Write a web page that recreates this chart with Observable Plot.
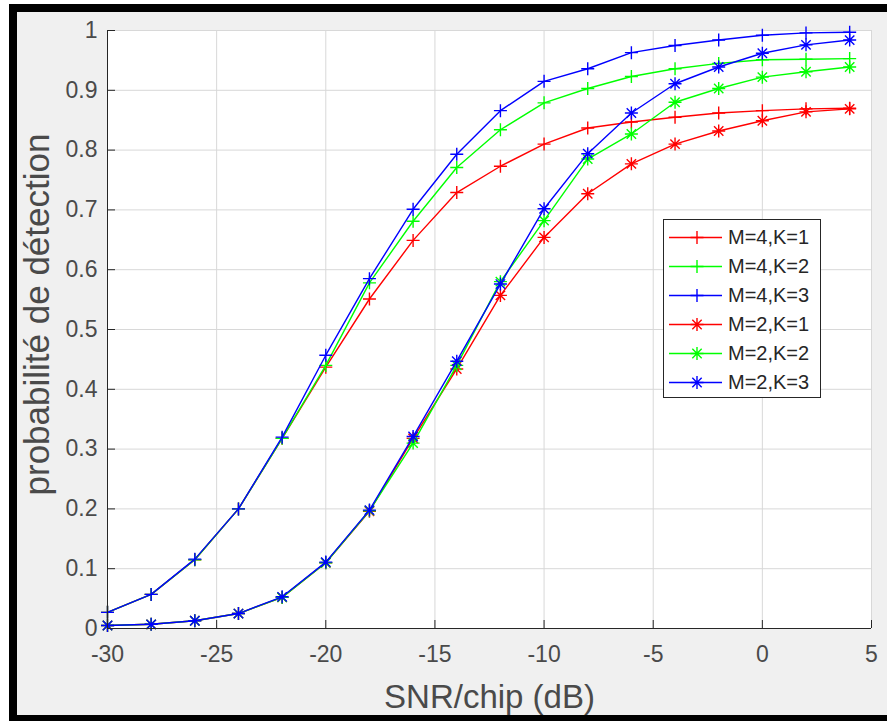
<!DOCTYPE html>
<html><head><meta charset="utf-8">
<script src="https://cdn.jsdelivr.net/npm/d3@7"></script>
<script src="https://cdn.jsdelivr.net/npm/@observablehq/plot@0.6"></script>
<style>
html,body{margin:0;padding:0;background:#fff;}
#wrap{position:relative;width:887px;height:721px;overflow:hidden;font-family:Arial,"Liberation Sans",Helvetica,sans-serif;}
#border{position:absolute;left:9px;top:4px;width:878px;height:717px;box-sizing:border-box;border-left:8px solid #000;border-top:8px solid #000;border-bottom:6px solid #000;background:#f0f0f0;}
#chart{position:absolute;left:0;top:0;}
#legend{position:absolute;left:663px;top:219px;width:158px;height:179px;box-sizing:border-box;border:1px solid #262626;background:#fff;}
.lrow{position:absolute;left:0;height:29px;width:156px;}
.lrow svg{position:absolute;left:0;top:0;}
.lrow span{position:absolute;left:64px;top:0;line-height:29px;font-size:20px;color:#262626;white-space:nowrap;}
</style></head><body>
<div id="wrap"><div id="border"></div><div id="chart"></div><div id="legend"></div></div>
<script>
// ---- data ----
const snr = [-30, -28, -26, -24, -22, -20, -18, -16, -14, -12, -10, -8, -6, -4, -2, 0, 2, 4];
const m4k1 = [0.027, 0.057, 0.115, 0.200, 0.318, 0.437, 0.551, 0.649, 0.729, 0.773, 0.810, 0.837, 0.847, 0.855, 0.862, 0.866, 0.869, 0.870];
const m4k2 = [0.027, 0.057, 0.115, 0.200, 0.318, 0.440, 0.578, 0.681, 0.771, 0.834, 0.879, 0.903, 0.923, 0.936, 0.945, 0.951, 0.952, 0.953];
const m4k3 = [0.027, 0.057, 0.116, 0.200, 0.320, 0.457, 0.585, 0.701, 0.793, 0.866, 0.915, 0.936, 0.963, 0.975, 0.984, 0.992, 0.996, 0.997];
const m2k1 = [0.005, 0.007, 0.013, 0.025, 0.052, 0.110, 0.196, 0.318, 0.434, 0.557, 0.654, 0.727, 0.777, 0.810, 0.832, 0.849, 0.864, 0.869];
const m2k2 = [0.005, 0.007, 0.013, 0.025, 0.052, 0.110, 0.197, 0.310, 0.440, 0.580, 0.682, 0.785, 0.827, 0.880, 0.903, 0.922, 0.931, 0.939];
const m2k3 = [0.005, 0.007, 0.013, 0.025, 0.053, 0.111, 0.198, 0.321, 0.447, 0.576, 0.702, 0.794, 0.862, 0.911, 0.939, 0.962, 0.976, 0.984];
const seriesNames = ["M=4,K=1", "M=4,K=2", "M=4,K=3", "M=2,K=1", "M=2,K=2", "M=2,K=3"];
const seriesValues = [m4k1, m4k2, m4k3, m2k1, m2k2, m2k3];
const seriesColors = ["#ff0000", "#00ff00", "#0000ff", "#ff0000", "#00ff00", "#0000ff"];
const seriesMarkers = ["plus", "plus", "plus", "star", "star", "star"];
const xTicks = [-30, -25, -20, -15, -10, -5, 0, 5];
const yTicks = [0, 0.1, 0.2, 0.3, 0.4, 0.5, 0.6, 0.7, 0.8, 0.9, 1];
const xLabel = "SNR/chip (dB)";
const yLabel = "probabilité de détection";

// ---- marker shapes (MATLAB '+' and '*') ----
const plusSymbol = {draw(ctx, size) {
  const r = Math.sqrt(size / Math.PI);
  ctx.moveTo(-r, 0); ctx.lineTo(r, 0);
  ctx.moveTo(0, -r); ctx.lineTo(0, r);
}};
const starSymbol = {draw(ctx, size) {
  const r = Math.sqrt(size / Math.PI), d = r * 0.72;
  ctx.moveTo(-r, 0); ctx.lineTo(r, 0);
  ctx.moveTo(0, -r); ctx.lineTo(0, r);
  ctx.moveTo(-d, -d); ctx.lineTo(d, d);
  ctx.moveTo(-d, d); ctx.lineTo(d, -d);
}};
const symbols = {plus: plusSymbol, star: starSymbol};

const tables = seriesValues.map((vals, i) => snr.map((x, j) => ({x, y: vals[j], name: seriesNames[i]})));

const seriesMarks = tables.flatMap((t, i) => [
  Plot.line(t, {x: "x", y: "y", stroke: seriesColors[i], strokeWidth: 1.4}),
  Plot.dot(t, {x: "x", y: "y", stroke: seriesColors[i], fill: "none", symbol: symbols[seriesMarkers[i]], r: 6.5, strokeWidth: 1.4})
]);

const txt = "#262626";
const lab = "#4a4a4a";
const chart = Plot.plot({
  width: 887, height: 721,
  marginLeft: 107, marginRight: 16, marginTop: 30, marginBottom: 93,
  style: {background: "transparent", fontFamily: "Arial, 'Liberation Sans', Helvetica, sans-serif", color: txt},
  x: {domain: [-30, 5]},
  y: {domain: [0, 1]},
  marks: [
    Plot.frame({fill: "white", stroke: "none"}),
    Plot.gridX(xTicks, {stroke: "#d8d8d8", strokeOpacity: 1}),
    Plot.gridY(yTicks, {stroke: "#d8d8d8", strokeOpacity: 1}),
    ...seriesMarks,
    Plot.ruleY([0], {stroke: txt}),
    Plot.ruleX([-30], {stroke: txt}),
    Plot.axisX(xTicks, {tickSize: -8, tickFormat: () => "", label: null, stroke: txt}),
    Plot.axisY(yTicks, {tickSize: -8, tickFormat: () => "", label: null, stroke: txt}),
    Plot.axisX(xTicks, {tickSize: 0, tickPadding: 17, tickFormat: d => String(d), label: null, fontSize: 23, fill: lab}),
    Plot.axisY(yTicks, {tickSize: 0, tickPadding: 10, tickFormat: d => String(d), label: null, fontSize: 23, fill: lab}),
    Plot.text([xLabel], {text: d => d, frameAnchor: "bottom", dy: 69, lineAnchor: "middle", textAnchor: "middle", fontSize: 33, fill: lab}),
    Plot.text([yLabel], {text: d => d, frameAnchor: "left", dx: -70, dy: -15, rotate: -90, lineAnchor: "middle", textAnchor: "middle", fontSize: 35, fill: lab})
  ]
});
document.getElementById("chart").appendChild(chart);

// ---- legend ----
const legend = d3.select("#legend");
seriesNames.forEach((name, i) => {
  const row = legend.append("div").attr("class", "lrow").style("top", (2.5 + 29 * i) + "px");
  const svg = row.append("svg").attr("width", 62).attr("height", 29);
  svg.append("line").attr("x1", 5).attr("x2", 58).attr("y1", 14.5).attr("y2", 14.5)
    .attr("stroke", seriesColors[i]).attr("stroke-width", 1.4);
  const p = d3.path();
  symbols[seriesMarkers[i]].draw(p, Math.PI * 6.5 * 6.5);
  svg.append("path").attr("d", p.toString()).attr("transform", "translate(33,14.5)")
    .attr("stroke", seriesColors[i]).attr("fill", "none").attr("stroke-width", 1.4);
  row.append("span").text(name);
});
</script>
</body></html>
